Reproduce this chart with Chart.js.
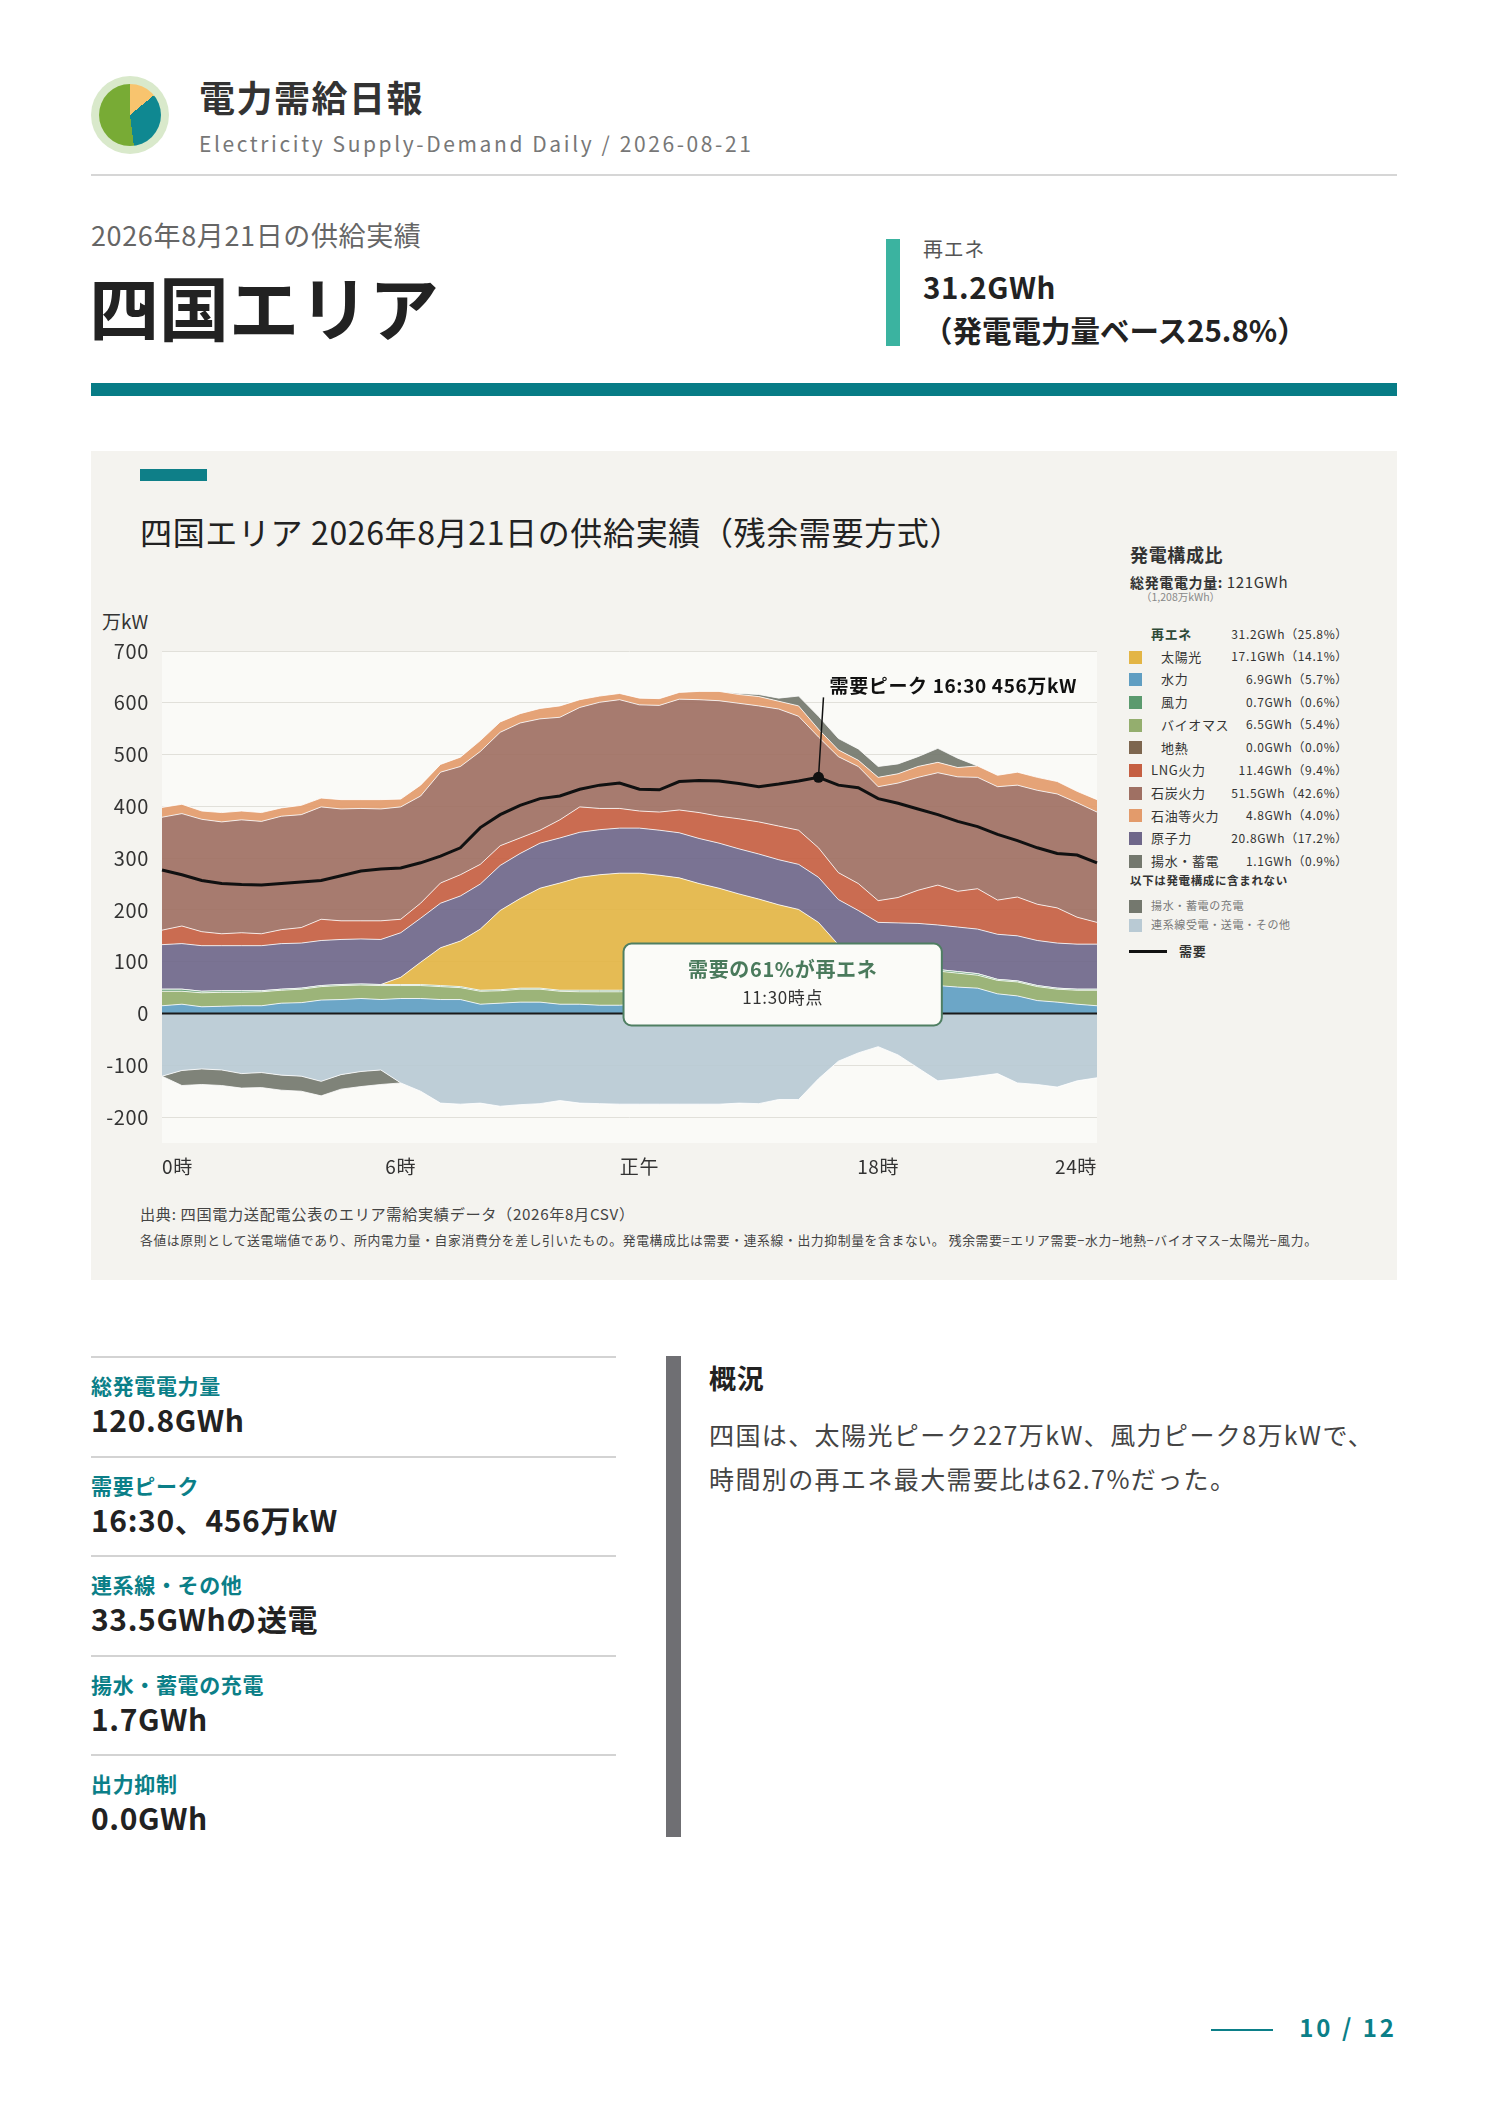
<!DOCTYPE html>
<html lang="ja">
<head>
<meta charset="utf-8">
<title>電力需給日報 四国エリア</title>
<script src="https://cdn.jsdelivr.net/npm/chart.js@4.4.1/dist/chart.umd.min.js"></script>
<style>
  html, body { margin: 0; padding: 0; background: #fff; }
  body { width: 1488px; height: 2105px; position: relative; overflow: hidden; letter-spacing: 0.04em;
         font-family: "Noto Sans CJK JP", "Noto Sans", sans-serif; color: #222; }
  .abs { position: absolute; white-space: nowrap; line-height: 1; }
  .logo { left: 91px; top: 76px; width: 78px; height: 78px; border-radius: 50%; background: #d9e9cb; }
  .pie { left: 99px; top: 84px; width: 62px; height: 62px; border-radius: 50%;
         background: conic-gradient(#f8c46e 0 14%, #0f8891 14% 48%, #78ab35 48% 100%); }
  .title { left: 199px; top: 78px; font-size: 36px; font-weight: 700; color: #333; letter-spacing: 1.5px; }
  .sub { left: 199px; top: 133px; font-size: 21px; color: #777; letter-spacing: 2.6px; }
  .hr { left: 91px; top: 174px; width: 1306px; height: 2px; background: #d6d6d6; }
  .date { left: 91px; top: 221px; font-size: 27px; color: #666; }
  .area { left: 89px; top: 271px; font-size: 70px; font-weight: 700; color: #222; letter-spacing: 0; }
  .rebar { left: 886px; top: 239px; width: 14px; height: 107px; background: #3bb3a0; }
  .re1 { left: 923px; top: 239px; font-size: 20px; color: #555; }
  .re2 { left: 923px; top: 265px; font-size: 29.5px; line-height: 43px; font-weight: 700; color: #222; }
  .re2 .l2 { letter-spacing: 0; }
  .band { left: 91px; top: 383px; width: 1306px; height: 13px; background: #077c86; }
  .panel { left: 91px; top: 451px; width: 1306px; height: 829px; background: #f4f3ef; }
  .minibar { left: 140px; top: 469px; width: 67px; height: 12px; background: #0e7f88; }
  .ctitle { left: 140px; top: 515px; font-size: 32px; color: #222; }
  .unit { left: 102px; top: 611px; font-size: 19px; color: #333; letter-spacing: 0; }
  #chartBox { position: absolute; left: 91px; top: 600px; width: 1025px; height: 600px; }
  .lg-h { left: 1130px; top: 545px; font-size: 18px; font-weight: 700; color: #333; }
  .lg-t { left: 1130px; top: 574px; font-size: 14px; color: #333; }
  .lg-t b { font-weight: 700; }
  .lg-t span { font-size: 15px; }
  .lg-s { left: 1141px; top: 592px; font-size: 10.5px; color: #888; letter-spacing: 0; }
  .sw { position: absolute; width: 13px; height: 13px; }
  .lg-name { font-size: 13px; color: #333; }
  .lg-val { font-size: 12px; color: #333; text-align: right; }
  .note1 { left: 140px; top: 1206px; font-size: 15.2px; color: #444; }
  .note2 { left: 140px; top: 1234px; font-size: 12.8px; color: #444; }
  .sep { left: 91px; width: 525px; height: 2px; background: #d3d3d3; }
  .st-l { left: 91px; font-size: 21px; font-weight: 700; color: #0b7f88; }
  .st-v { left: 91px; font-size: 30px; font-weight: 700; color: #222; }
  .vbar { left: 666px; top: 1356px; width: 15px; height: 481px; background: #6f6f73; }
  .gk { left: 709px; top: 1364px; font-size: 27px; font-weight: 700; color: #222; }
  .para { left: 709px; font-size: 25px; color: #444; letter-spacing: 1.4px; }
  .pline { left: 1211px; top: 2029px; width: 62px; height: 2px; background: #0b7f88; }
  .pnum { right: 91px; top: 2015px; font-size: 24px; font-weight: 700; color: #0b7f88; letter-spacing: 3px; }
</style>
</head>
<body>

<div class="abs logo"></div>
<div class="abs pie"></div>
<div class="abs title">電力需給日報</div>
<div class="abs sub">Electricity Supply-Demand Daily / 2026-08-21</div>
<div class="abs hr"></div>

<div class="abs date">2026年8月21日の供給実績</div>
<div class="abs area">四国エリア</div>
<div class="abs rebar"></div>
<div class="abs re1">再エネ</div>
<div class="abs re2">31.2GWh<br><span class="l2">（発電電力量ベース25.8%）</span></div>
<div class="abs band"></div>

<div class="abs panel"></div>
<div class="abs minibar"></div>
<div class="abs ctitle">四国エリア 2026年8月21日の供給実績（残余需要方式）</div>
<div class="abs unit">万kW</div>
<div id="chartBox"><canvas id="supplyChart"></canvas></div>

<div class="abs lg-h">発電構成比</div>
<div class="abs lg-t"><b>総発電電力量:</b> <span>121GWh</span></div>
<div class="abs lg-s">（1,208万kWh）</div>
<div id="legend"></div>

<div class="abs note1">出典: 四国電力送配電公表のエリア需給実績データ（2026年8月CSV）</div>
<div class="abs note2">各値は原則として送電端値であり、所内電力量・自家消費分を差し引いたもの。発電構成比は需要・連系線・出力抑制量を含まない。 残余需要=エリア需要−水力−地熱−バイオマス−太陽光−風力。</div>

<div id="stats"></div>

<div class="abs vbar"></div>
<div class="abs gk">概況</div>
<div class="abs para" style="top:1422px">四国は、太陽光ピーク227万kW、風力ピーク8万kWで、</div>
<div class="abs para" style="top:1466px">時間別の再エネ最大需要比は62.7%だった。</div>

<div class="abs pline"></div>
<div class="abs pnum">10 / 12</div>

<script>
// 30分値 (万kW)
const timeLabels = [
  '0:00','0:30','1:00','1:30','2:00','2:30','3:00','3:30','4:00','4:30','5:00','5:30',
  '6:00','6:30','7:00','7:30','8:00','8:30','9:00','9:30','10:00','10:30','11:00','11:30',
  '12:00','12:30','13:00','13:30','14:00','14:30','15:00','15:30','16:00','16:30','17:00','17:30',
  '18:00','18:30','19:00','19:30','20:00','20:30','21:00','21:30','22:00','22:30','23:00','23:30'
];
const xTickIndex = [0, 12, 24, 36, 47];
const xTickLabels = ['0時', '6時', '正午', '18時', '24時'];
const yTicks = [-200, -100, 0, 100, 200, 300, 400, 500, 600, 700];

const hydro = [15,18,13,14,15,15,20,21,26,27,29,27,29,29,27,27,18,20,22,22,18,18,16,16,
               18,20,22,25,28,31,34,37,41,45,49,52,54,55,55,54,51,49,38,34,25,22,18,15];
const biomass = [28,25,27,27,26,27,25,26,26,27,26,27,25,25,25,23,25,24,25,25,25,24,26,26,
                 25,25,24,24,24,23,23,22,22,22,23,24,25,26,27,28,27,25,26,27,27,25,27,30];
const wind = [4,4,3,3,3,2,2,2,2,2,2,2,2,2,2,2,2,2,2,2,2,3,3,3,
              3,3,4,4,4,5,5,6,7,8,7,6,5,4,4,3,3,3,2,2,2,2,2,2];
const solar = [0,0,0,0,0,0,0,0,0,0,0,0,14,43,73,88,118,153,173,193,207,218,223,226,
               225,219,212,198,186,172,159,145,131,101,54,30,5,3,1,0,0,0,0,0,0,0,0,0];
const nuclear = [86,88,88,87,87,87,88,87,87,87,87,87,86,85,86,87,87,87,87,87,87,87,87,87,
                 87,87,87,87,87,87,87,87,87,87,87,87,87,87,87,86,86,86,87,87,87,87,87,87];
const lng = [28,34,27,23,25,23,27,30,41,36,35,36,26,29,39,41,38,38,30,25,35,49,41,38,
             33,35,44,50,52,58,62,65,66,57,52,52,42,49,64,77,69,78,66,75,70,68,52,42];
const coal = [218,217,217,216,218,217,219,218,217,216,217,216,217,207,214,209,218,219,222,215,198,192,205,210,
              205,206,214,218,223,223,224,226,220,214,224,226,220,221,218,217,221,215,219,216,220,220,221,213];
const oil = [19,18,16,18,17,17,16,18,17,18,17,18,15,21,15,18,21,20,18,20,22,15,12,12,
             13,13,13,16,18,17,18,15,20,15,13,12,18,18,21,20,18,22,22,25,25,24,22,24];
const pumpGen = [0,0,0,0,0,0,0,0,0,0,0,0,0,0,0,0,0,0,0,0,0,0,0,0,
                 0,0,0,0,0,2,4,6,19,25,22,22,21,19,19,27,18,0,0,0,0,0,0,0];
const tieLine = [-121,-110,-107,-109,-116,-114,-119,-121,-131,-118,-112,-109,-134,-150,-173,-175,-173,-179,-176,-174,-168,-173,-174,-175,
                 -175,-175,-175,-175,-175,-173,-174,-166,-166,-126,-92,-76,-64,-80,-105,-130,-126,-121,-116,-134,-137,-142,-130,-124];
const pumpCharge = [0,-29,-30,-30,-28,-29,-29,-29,-28,-28,-29,-28,0,0,0,0,0,0,0,0,0,0,0,0,
                    0,0,0,0,0,0,0,0,0,0,0,0,0,0,0,0,0,0,0,0,0,0,0,0];
const demand = [277,268,257,251,249,248,251,254,257,266,275,279,281,291,304,320,359,384,402,415,420,433,441,445,
                433,432,448,450,449,444,438,443,449,456,441,436,415,406,395,384,371,361,346,334,320,309,306,291];

// 凡例
const mixNames = ['太陽光','水力','風力','バイオマス','地熱','LNG火力','石炭火力','石油等火力','原子力','揚水・蓄電'];
const mixValues = ['17.1GWh（14.1%）','6.9GWh（5.7%）','0.7GWh（0.6%）','6.5GWh（5.4%）','0.0GWh（0.0%）',
                   '11.4GWh（9.4%）','51.5GWh（42.6%）','4.8GWh（4.0%）','20.8GWh（17.2%）','1.1GWh（0.9%）'];
const outsideNames = ['揚水・蓄電の充電', '連系線受電・送電・その他'];

// 下段の数値
const statLabels = ['総発電電力量', '需要ピーク', '連系線・その他', '揚水・蓄電の充電', '出力抑制'];
const statValues = ['120.8GWh', '16:30、456万kW', '33.5GWhの送電', '1.7GWh', '0.0GWh'];

const col = {
  solar: '#e3b545', hydro: '#609ec2', wind: '#5b9a6e', bio: '#94ae6e', geo: '#7d664f',
  lng: '#c55f42', coal: '#9f7063', oil: '#e39b6b', nuclear: '#6f678a', pump: '#74786e', tie: '#b9cad4'
};
const mixColors = [col.solar, col.hydro, col.wind, col.bio, col.geo, col.lng, col.coal, col.oil, col.nuclear, col.pump];
const FONT = '"Noto Sans CJK JP", "Noto Sans", sans-serif';

// legend
const legend = document.getElementById('legend');
function addText(cls, text, left, top, extra) {
  const d = document.createElement('div');
  d.className = 'abs ' + cls;
  d.textContent = text;
  d.style.left = left + 'px';
  d.style.top = top + 'px';
  if (extra) Object.assign(d.style, extra);
  legend.appendChild(d);
  return d;
}
function addSwatch(color, top) {
  const s = document.createElement('div');
  s.className = 'sw';
  s.style.left = '1129px';
  s.style.top = top + 'px';
  s.style.background = color;
  legend.appendChild(s);
}
addText('lg-name', '再エネ', 1151, 627, { fontWeight: 700, color: '#2e4a37' });
addText('lg-val', '31.2GWh（25.8%）', 1180, 628, { width: '168px' });
mixNames.forEach((name, i) => {
  const cy = 657 + i * 22.7;
  addSwatch(mixColors[i], cy - 6.5);
  addText('lg-name', name, i < 5 ? 1161 : 1151, cy - 7.3);
  addText('lg-val', mixValues[i], 1180, cy - 6.7, { width: '168px' });
});
addText('lg-name', '以下は発電構成に含まれない', 1130, 875, { fontWeight: 700, fontSize: '11.5px' });
outsideNames.forEach((name, i) => {
  const cy = 906 + i * 19;
  addSwatch(i === 0 ? col.pump : col.tie, cy - 6.5);
  addText('lg-name', name, 1151, cy - 6.2, { fontSize: '11px', color: '#777' });
});
const dl = document.createElement('div');
dl.className = 'abs';
Object.assign(dl.style, { left: '1129px', top: '950px', width: '38px', height: '3px', background: '#111' });
legend.appendChild(dl);
addText('lg-name', '需要', 1179, 944, { fontWeight: 700 });

// stats
const stats = document.getElementById('stats');
statLabels.forEach((lab, i) => {
  const base = 1356 + i * 99.5;
  const s = document.createElement('div');
  s.className = 'abs sep';
  s.style.top = base + 'px';
  stats.appendChild(s);
  const l = document.createElement('div');
  l.className = 'abs st-l';
  l.style.top = (base + 19) + 'px';
  l.textContent = lab;
  stats.appendChild(l);
  const v = document.createElement('div');
  v.className = 'abs st-v';
  v.style.top = (base + 48) + 'px';
  v.textContent = statValues[i];
  stats.appendChild(v);
});

// chart
Chart.defaults.font.family = FONT;
const peakIndex = demand.indexOf(Math.max(...demand));

function area(label, data, color, fill, stack) {
  return {
    label, data, stack, fill,
    backgroundColor: color + 'eb',
    borderColor: 'rgba(255,255,255,0.8)',
    borderWidth: 1,
    pointRadius: 0,
    tension: 0
  };
}

const plotBg = {
  id: 'plotBg',
  beforeDraw(chart) {
    const { ctx, chartArea: a } = chart;
    ctx.save();
    ctx.fillStyle = '#fafaf7';
    ctx.fillRect(a.left, a.top, a.width, a.height);
    ctx.restore();
  }
};

const overlay = {
  id: 'overlay',
  afterDatasetsDraw(chart) {
    const { ctx, chartArea: a, scales } = chart;
    const x = scales.x, y = scales.y;
    ctx.save();
    // zero line
    const y0 = y.getPixelForValue(0);
    ctx.strokeStyle = '#1a1a1a';
    ctx.lineWidth = 2;
    ctx.beginPath();
    ctx.moveTo(a.left, y0);
    ctx.lineTo(a.right, y0);
    ctx.stroke();

    // peak label
    const px = x.getPixelForValue(peakIndex);
    const py = y.getPixelForValue(demand[peakIndex]);
    ctx.lineWidth = 1.5;
    ctx.strokeStyle = '#111';
    ctx.beginPath();
    ctx.moveTo(px, py);
    ctx.lineTo(px + 5, py - 80);
    ctx.stroke();
    ctx.fillStyle = '#111';
    ctx.font = 'bold 19px ' + FONT;
    ctx.textBaseline = 'middle';
    ctx.textAlign = 'left';
    ctx.fillText('需要ピーク ' + timeLabels[peakIndex] + ' ' + demand[peakIndex] + '万kW', px + 11, py - 92);

    // renewable share box
    const bx1 = x.getPixelForValue(23.2), bx2 = x.getPixelForValue(39.2);
    const by1 = y.getPixelForValue(135), by2 = y.getPixelForValue(-23);
    ctx.beginPath();
    ctx.roundRect(bx1, by1, bx2 - bx1, by2 - by1, 8);
    ctx.fillStyle = '#fbfbf8';
    ctx.fill();
    ctx.lineWidth = 2;
    ctx.strokeStyle = '#4f7f62';
    ctx.stroke();
    const cx = (bx1 + bx2) / 2;
    ctx.textAlign = 'center';
    ctx.fillStyle = '#4a7a5c';
    ctx.font = 'bold 20px ' + FONT;
    ctx.fillText('需要の61%が再エネ', cx, by1 + 26);
    ctx.fillStyle = '#333';
    ctx.font = '17px ' + FONT;
    ctx.fillText('11:30時点', cx, by1 + 54);
    ctx.restore();
  }
};

new Chart(document.getElementById('supplyChart'), {
  type: 'line',
  data: {
    labels: timeLabels,
    datasets: [
      {
        label: '需要', data: demand, stack: 'demand', fill: false,
        borderColor: '#111', borderWidth: 3, tension: 0,
        pointRadius: c => c.dataIndex === peakIndex ? 5.5 : 0,
        pointBackgroundColor: '#111', pointBorderWidth: 0
      },
      area('水力', hydro, col.hydro, 'origin', 'pos'),
      area('バイオマス', biomass, col.bio, '-1', 'pos'),
      area('風力', wind, col.wind, '-1', 'pos'),
      area('太陽光', solar, col.solar, '-1', 'pos'),
      area('原子力', nuclear, col.nuclear, '-1', 'pos'),
      area('LNG火力', lng, col.lng, '-1', 'pos'),
      area('石炭火力', coal, col.coal, '-1', 'pos'),
      area('石油等火力', oil, col.oil, '-1', 'pos'),
      area('揚水・蓄電', pumpGen, col.pump, '-1', 'pos'),
      area('連系線受電・送電・その他', tieLine, col.tie, 'origin', 'neg'),
      area('揚水・蓄電の充電', pumpCharge, col.pump, '-1', 'neg')
    ]
  },
  options: {
    responsive: true,
    maintainAspectRatio: false,
    animation: false,
    events: [],
    layout: { padding: { top: 51, right: 19, left: 0, bottom: 0 } },
    plugins: { legend: { display: false }, tooltip: { enabled: false } },
    scales: {
      x: {
        type: 'category',
        offset: false,
        grid: { display: false },
        border: { display: false },
        ticks: {
          autoSkip: false, maxRotation: 0, align: 'inner', padding: 4,
          color: '#333', font: { size: 19 },
          callback: (v, i) => xTickLabels[i]
        },
        afterBuildTicks: s => { s.ticks = xTickIndex.map(v => ({ value: v })); },
        afterFit: s => { s.height = 57; }
      },
      y: {
        stacked: true,
        min: -250,
        max: 700,
        grid: { color: '#e1e0da', lineWidth: 1, drawTicks: false },
        border: { display: false },
        ticks: { color: '#333', font: { size: 20 }, padding: 13 },
        afterBuildTicks: s => { s.ticks = yTicks.map(v => ({ value: v })); },
        afterFit: s => { s.width = 71; }
      }
    }
  },
  plugins: [plotBg, overlay]
});
</script>
</body>
</html>
